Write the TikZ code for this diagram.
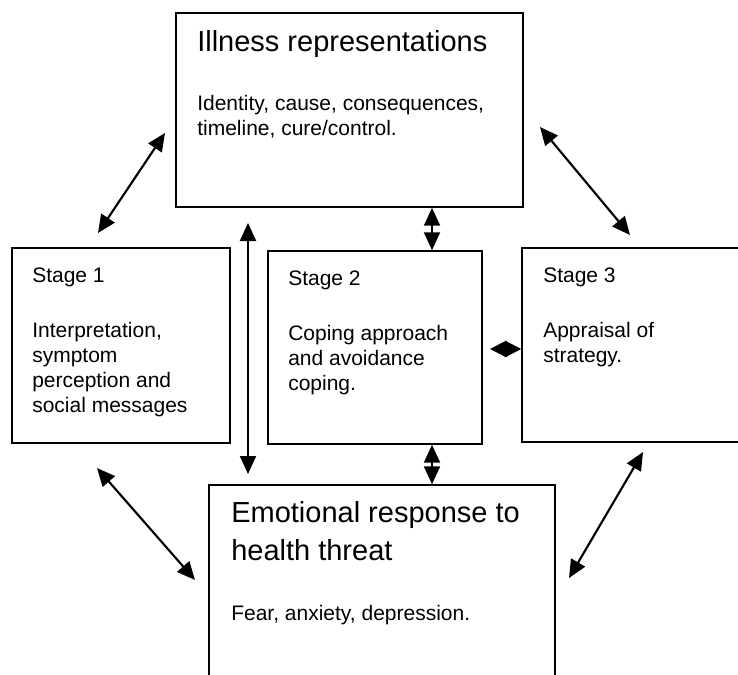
\documentclass[tikz,border=0pt]{standalone}
\usepackage{fontspec}
\setmainfont{Liberation Sans}
\usetikzlibrary{fit,arrows.meta}
\tikzset{
  box/.style={draw, line width=1.1pt, inner sep=0pt},
  title/.style={anchor=base west, inner sep=0pt, font=\fontsize{21.75}{28.5}\selectfont, align=left},
  body/.style={anchor=north west, inner sep=0pt, font=\fontsize{15.75}{18.75}\selectfont, align=left},
  dbl/.style={{Triangle[length=13.5pt,width=12pt]}-{Triangle[length=13.5pt,width=12pt]}, line width=1.6pt},
  short/.style={{Triangle[length=12pt,width=12pt]}-{Triangle[length=12pt,width=12pt]}, line width=1.6pt}
}
\begin{document}
\begin{tikzpicture}[x=0.75pt,y=-0.75pt]
\useasboundingbox (0,0) rectangle (738,674);
\clip (0,0) rectangle (738,674);
\node[box, fit={(176,13) (523,207)}] (illness) {};
\node[box, fit={(12,248) (230,443)}] (stage1) {};
\node[box, fit={(268,251) (482,444)}] (stage2) {};
\node[box, fit={(522,248) (760,442)}] (stage3) {};
\node[box, fit={(209,485) (555,700)}] (emotion) {};

\node[title] (illtitle) at (197,52) {Illness representations};
\node[body] (illtext) at (197,95) {Identity, cause, consequences,\\timeline, cure/control.};
\node[title, font=\fontsize{15.75}{18.75}\selectfont] (s1title) at (32,282) {Stage 1};
\node[body] (s1text) at (32,322) {Interpretation,\\symptom\\perception and\\social messages};
\node[title, font=\fontsize{15.75}{18.75}\selectfont] (s2title) at (288,285) {Stage 2};
\node[body] (s2text) at (288,325) {Coping approach\\and avoidance\\coping.};
\node[title, font=\fontsize{15.75}{18.75}\selectfont] (s3title) at (543,282) {Stage 3};
\node[body] (s3text) at (543,322) {Appraisal of\\strategy.};
\node[title, anchor=north west] (emotitle) at (231,501) {Emotional response to\\health threat};
\node[title, font=\fontsize{15.75}{18.75}\selectfont] (emotext) at (231,620) {Fear, anxiety, depression.};

\coordinate (tl1) at (98,233);  \coordinate (tl2) at (165,133);
\coordinate (tr1) at (540,127); \coordinate (tr2) at (630,235);
\coordinate (bl1) at (97,468);  \coordinate (bl2) at (195,580);
\coordinate (br1) at (643,452); \coordinate (br2) at (569,578);
\coordinate (up) at (248,223);  \coordinate (down) at (248,474);
\coordinate (mid) at (432,0);   \coordinate (side) at (490,349);

\draw[dbl] (tl1) -- (tl2);
\draw[dbl] (tr1) -- (tr2);
\draw[dbl] (bl1) -- (bl2);
\draw[dbl] (br1) -- (br2);
\draw[dbl] (up) -- (down);
\draw[dbl] (illness.south -| mid) -- (stage2.north -| mid);
\draw[dbl] (stage2.south -| mid) -- (emotion.north -| mid);
\draw[short] (side) -- (stage3.west |- side);
\end{tikzpicture}
\end{document}
